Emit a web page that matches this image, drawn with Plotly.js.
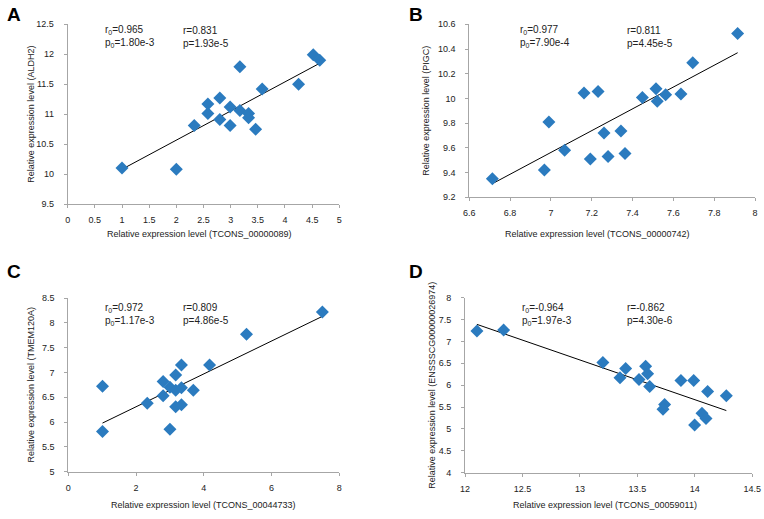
<!DOCTYPE html>
<html>
<head>
<meta charset="utf-8">
<script src="https://cdn.plot.ly/plotly-3.0.1.min.js"></script>
<style>html,body{margin:0;padding:0;background:#fff;}#chart{width:764px;height:519px;}</style>
</head>
<body>
<div id="chart"></div>
<script>
// Panel A
const aX = [1.0, 2.0, 2.33, 2.58, 2.58, 2.80, 2.80, 2.99, 2.99, 3.17, 3.17, 3.33, 3.33, 3.46, 3.58, 4.25, 4.52, 4.64];
const aY = [10.10, 10.08, 10.81, 11.17, 11.01, 11.27, 10.91, 11.12, 10.81, 11.06, 11.79, 11.01, 10.94, 10.75, 11.42, 11.50, 11.99, 11.90];
const aFitX = [1.0, 4.64];
const aFitY = [10.08, 11.85];
// Panel B
const bX = [6.713, 6.968, 6.990, 7.067, 7.162, 7.193, 7.231, 7.260, 7.280, 7.343, 7.363, 7.448, 7.515, 7.521, 7.562, 7.637, 7.695, 7.915];
const bY = [9.35, 9.42, 9.81, 9.58, 10.045, 9.51, 10.056, 9.72, 9.53, 9.736, 9.555, 10.008, 10.078, 9.978, 10.029, 10.035, 10.288, 10.525];
const bFitX = [6.713, 7.915];
const bFitY = [9.31, 10.37];
// Panel C
const cX = [1.01, 1.01, 2.33, 2.80, 2.80, 3.00, 3.00, 3.17, 3.17, 3.17, 3.34, 3.34, 3.34, 3.69, 4.17, 5.26, 7.50];
const cY = [6.72, 5.81, 6.38, 6.82, 6.53, 6.70, 5.855, 6.95, 6.64, 6.31, 7.15, 6.69, 6.35, 6.64, 7.15, 7.77, 8.22];
const cFitX = [1.01, 7.50];
const cFitY = [5.98, 8.13];
// Panel D
const dX = [12.104, 12.336, 13.20, 13.349, 13.398, 13.514, 13.572, 13.589, 13.607, 13.737, 13.723, 13.879, 13.99, 14.111, 14.274, 14.062, 14.097, 13.998];
const dY = [7.24, 7.26, 6.52, 6.17, 6.38, 6.13, 6.435, 6.26, 5.97, 5.56, 5.45, 6.11, 6.11, 5.855, 5.76, 5.36, 5.24, 5.09];
const dFitX = [12.104, 14.274];
const dFitY = [7.39, 5.42];

const panelLetters = ["A", "B", "C", "D"];
const xTitles = ["Relative expression level (TCONS_00000089)", "Relative expression level (TCONS_00000742)", "Relative expression level (TCONS_00044733)", "Relative expression level (TCONS_00059011)"];
const yTitles = ["Relative expression level (ALDH2)", "Relative expression level (PIGC)", "Relative expression level (TMEM120A)", "Relative expression level (ENSSSCG00000026974)"];
const stat0 = ["r<sub>0</sub>=0.965<br>p<sub>0</sub>=1.80e-3", "r<sub>0</sub>=0.977<br>p<sub>0</sub>=7.90e-4", "r<sub>0</sub>=0.972<br>p<sub>0</sub>=1.17e-3", "r<sub>0</sub>=-0.964<br>p<sub>0</sub>=1.97e-3"];
const stat1 = ["r=0.831<br>p=1.93e-5", "r=0.811<br>p=4.45e-5", "r=0.809<br>p=4.86e-5", "r=-0.862<br>p=4.30e-6"];

const W = 764, H = 519;
const px = v => v / W;
const py = v => 1 - v / H;

const FONT = "Liberation Sans, Arial, sans-serif";
const TXT = "#222222";
const BLUE = "#2b7bbf";

const sets = [
  {x: aX, y: aY, fx: aFitX, fy: aFitY},
  {x: bX, y: bY, fx: bFitX, fy: bFitY},
  {x: cX, y: cY, fx: cFitX, fy: cFitY},
  {x: dX, y: dY, fx: dFitX, fy: dFitY}
];
// pixel boxes [left, right, top, bottom]
const boxes = [[67.7, 339.3, 24.3, 204], [469.3, 755, 24.3, 197.3], [68.3, 339.3, 298, 471.7], [465, 752.3, 297.7, 472.7]];
const xr = [[0, 5], [6.6, 8], [0, 8], [12, 14.5]];
const yr = [[9.5, 12.5], [9.2, 10.6], [5, 8.5], [4, 8]];
const xd = [0.5, 0.2, 2, 0.5];
const yd = [0.5, 0.2, 0.5, 0.5];
const yStandoff = [0, 6, 5, 1];

const data = [];
const layout = {
  width: W, height: H,
  margin: {l: 0, r: 0, t: 0, b: 0},
  paper_bgcolor: "#fff", plot_bgcolor: "#fff",
  showlegend: false,
  font: {family: FONT, color: TXT, size: 10},
  annotations: []
};

const letterPos = [[5, 14], [407, 14], [5, 271], [407, 271]];
const xTitlePos = [[199, 234], [597, 234], [203, 505], [605, 505]];
const stat0Pos = [[103, 37], [518, 37], [103, 314], [520, 314]];
const stat1Pos = [[181, 37], [625, 37], [181, 314], [625, 314]];

sets.forEach((s, i) => {
  const n = i === 0 ? "" : String(i + 1);
  const b = boxes[i];
  data.push({
    type: "scatter", mode: "lines", x: s.fx, y: s.fy,
    xaxis: "x" + n, yaxis: "y" + n,
    line: {color: "#000", width: 1}, hoverinfo: "skip"
  });
  data.push({
    type: "scatter", mode: "markers", x: s.x, y: s.y,
    xaxis: "x" + n, yaxis: "y" + n,
    marker: {symbol: "diamond", size: 10, color: BLUE, line: {width: 0}}
  });
  const axCommon = {
    showgrid: false, zeroline: false, showline: true, linecolor: "#a6a6a6", linewidth: 1,
    ticks: "outside", ticklen: 3, tickcolor: "#a6a6a6", automargin: false,
    tickfont: {family: FONT, size: 9, color: TXT}, fixedrange: true
  };
  layout["xaxis" + n] = Object.assign({}, axCommon, {
    domain: [px(b[0]), px(b[1])], range: xr[i], dtick: xd[i], tick0: xr[i][0],
    anchor: "y" + n, ticklabelstandoff: 4
  });
  layout["yaxis" + n] = Object.assign({}, axCommon, {
    domain: [py(b[3]), py(b[2])], range: yr[i], dtick: yd[i], tick0: yr[i][0],
    anchor: "x" + n, ticklabelstandoff: 8,
    title: {text: yTitles[i], standoff: yStandoff[i], font: {family: FONT, size: 9, color: TXT}}
  });
  layout.annotations.push({
    xref: "paper", yref: "paper", x: px(letterPos[i][0]), y: py(letterPos[i][1]),
    xanchor: "left", yanchor: "middle", showarrow: false, text: "<b>" + panelLetters[i] + "</b>",
    font: {family: FONT, size: 19, color: "#000"}
  });
  layout.annotations.push({
    xref: "paper", yref: "paper", x: px(xTitlePos[i][0]), y: py(xTitlePos[i][1]),
    xanchor: "center", yanchor: "middle", showarrow: false, text: xTitles[i],
    font: {family: FONT, size: 9, color: TXT}
  });
  layout.annotations.push({
    xref: "paper", yref: "paper", x: px(stat0Pos[i][0]), y: py(stat0Pos[i][1]),
    xanchor: "left", yanchor: "middle", align: "left", showarrow: false, text: stat0[i],
    font: {family: FONT, size: 10, color: TXT}
  });
  layout.annotations.push({
    xref: "paper", yref: "paper", x: px(stat1Pos[i][0]), y: py(stat1Pos[i][1]),
    xanchor: "left", yanchor: "middle", align: "left", showarrow: false, text: stat1[i],
    font: {family: FONT, size: 10, color: TXT}
  });
});

Plotly.newPlot("chart", data, layout, {displayModeBar: false, staticPlot: true});
</script>
</body>
</html>
